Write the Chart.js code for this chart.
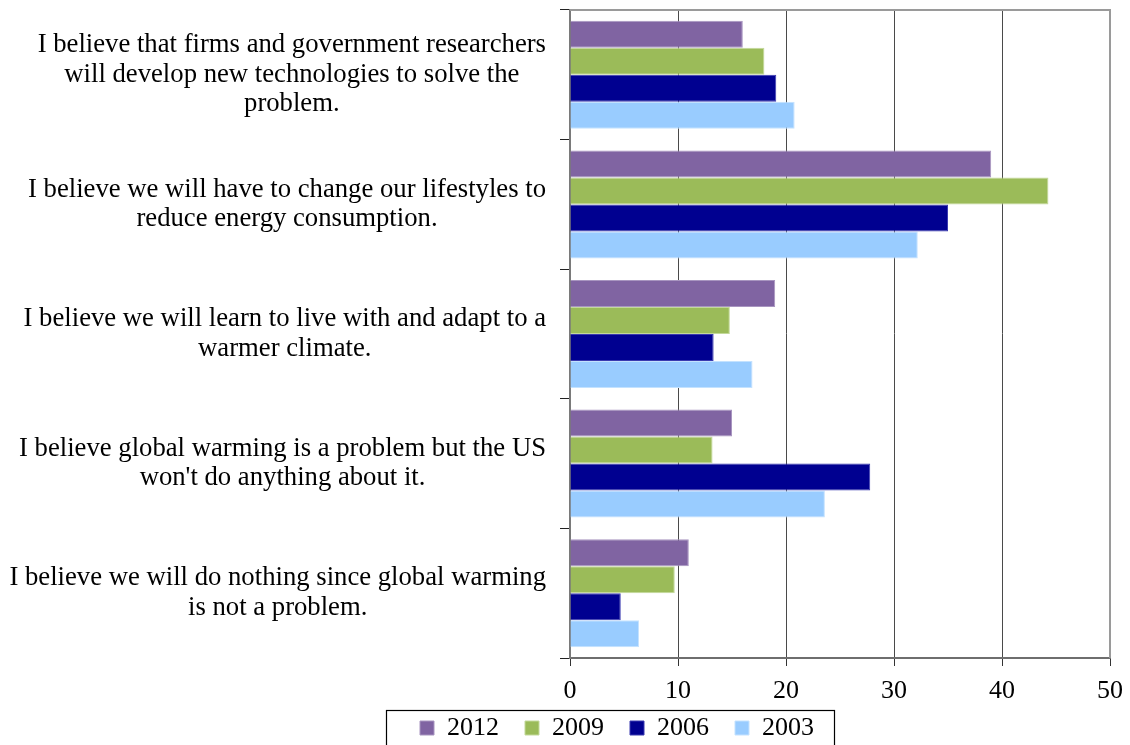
<!DOCTYPE html>
<html>
<head>
<meta charset="utf-8">
<title>Expectations about global warming</title>
<script src="https://cdn.jsdelivr.net/npm/chart.js@4.4.1/dist/chart.umd.min.js"></script>
<style>
  html, body { margin: 0; padding: 0; background: #fff; overflow: hidden; }
  #wrap { width: 1130px; height: 780px; }
</style>
</head>
<body>
<div id="wrap"><canvas id="chart" width="1130" height="780"></canvas></div>
<script>
// Datos del gráfico
const categories = [
    ['I believe that firms and government researchers', 'will develop new technologies to solve the', 'problem.'],
    ['I believe we will have to change our lifestyles to', 'reduce energy consumption.'],
    ['I believe we will learn to live with and adapt to a', 'warmer climate.'],
    ['I believe global warming is a problem but the US', "won't do anything about it."],
    ['I believe we will do nothing since global warming', 'is not a problem.']
];
const years = ['2012', '2009', '2006', '2003'];
const values2012 = [16.0, 39.0, 19.0, 15.0, 11.0];
const values2009 = [18.0, 44.3, 14.8, 13.2, 9.7];
const values2006 = [19.1, 35.0, 13.3, 27.8, 4.7];
const values2003 = [20.8, 32.2, 16.9, 23.6, 6.4];
const xTicks = [0, 10, 20, 30, 40, 50];

const colors = ['#8064a2', '#9bbb59', '#000090', '#99ccff'];
const borders = ['#a895c0', '#c3d99a', '#3a3ab0', '#c4e2ff'];
const serif = '"Liberation Serif", "Times New Roman", serif';

// Etiquetas de categoría: cada bloque centrado, alineado a la derecha por su línea más larga
const categoryLabels = {
    id: 'categoryLabels',
    afterDraw(chart) {
        const ctx = chart.ctx;
        const yScale = chart.scales.y;
        const lineH = 29.5;
        ctx.save();
        ctx.font = '26.7px ' + serif;
        ctx.fillStyle = '#000';
        ctx.textAlign = 'center';
        ctx.textBaseline = 'middle';
        categories.forEach((lines, i) => {
            const y = yScale.getPixelForValue(i);
            const widest = Math.max(...lines.map(l => ctx.measureText(l).width));
            const cx = 546 - widest / 2;
            lines.forEach((line, j) => {
                ctx.fillText(line, cx, y + (j - (lines.length - 1) / 2) * lineH);
            });
        });
        ctx.restore();
    }
};

// Subir la leyenda para que quede pegada a las etiquetas del eje
const legendShift = {
    id: 'legendShift',
    afterLayout(chart) {
        chart.legend.top -= 19;
        chart.legend.bottom -= 19;
    }
};

// Borde superior y derecho del área de trazado, y marco de la leyenda
const frame = {
    id: 'frame',
    afterDraw(chart) {
        const ctx = chart.ctx;
        const a = chart.chartArea;
        ctx.save();
        ctx.strokeStyle = '#9a9a9a';
        ctx.lineWidth = 2;
        ctx.beginPath();
        ctx.moveTo(a.left, a.top);
        ctx.lineTo(a.right, a.top);
        ctx.lineTo(a.right, a.bottom);
        ctx.stroke();

        const boxes = chart.legend.legendHitBoxes;
        if (boxes && boxes.length) {
            const first = boxes[0];
            const last = boxes[boxes.length - 1];
            const left = Math.round(first.left - 34) + 0.5;
            const right = Math.round(last.left + last.width + 20) + 0.5;
            ctx.strokeStyle = '#000';
            ctx.lineWidth = 1.2;
            ctx.strokeRect(left, 710.5, right - left, 80);
        }
        ctx.restore();
    }
};

const datasets = [values2012, values2009, values2006, values2003].map((vals, i) => ({
    label: years[i],
    data: vals,
    backgroundColor: colors[i],
    borderColor: borders[i],
    borderWidth: 1,
    borderSkipped: 'left',
    categoryPercentage: 0.833,
    barPercentage: 1.0
}));

new Chart(document.getElementById('chart'), {
    type: 'bar',
    data: {
        labels: categories,
        datasets: datasets
    },
    options: {
        indexAxis: 'y',
        responsive: false,
        animation: false,
        layout: {
            padding: { left: 124, right: 20, top: 10, bottom: 10 }
        },
        plugins: {
            tooltip: { enabled: false },
            legend: {
                position: 'bottom',
                labels: {
                    boxWidth: 14,
                    boxHeight: 14,
                    padding: 26,
                    color: '#000',
                    font: { family: serif, size: 26 }
                }
            }
        },
        scales: {
            x: {
                min: 0,
                max: 50,
                afterBuildTicks(scale) {
                    scale.ticks = xTicks.map(v => ({ value: v }));
                },
                afterFit(scale) {
                    scale.height = 50;
                    scale.paddingRight = 0;
                },
                grid: {
                    color: '#4a4a4a',
                    lineWidth: 1,
                    drawTicks: true,
                    tickLength: 8,
                    tickColor: '#333'
                },
                border: { color: '#6e6e6e', width: 2 },
                ticks: {
                    color: '#000',
                    padding: 10,
                    minRotation: 0,
                    maxRotation: 0,
                    font: { family: serif, size: 26 }
                }
            },
            y: {
                afterFit(scale) {
                    scale.width = 446;
                },
                grid: {
                    offset: true,
                    drawOnChartArea: false,
                    drawTicks: true,
                    tickLength: 10,
                    tickColor: '#222'
                },
                border: { color: '#7a7a7a', width: 2 },
                ticks: { display: false }
            }
        }
    },
    plugins: [categoryLabels, legendShift, frame]
});
</script>
</body>
</html>
